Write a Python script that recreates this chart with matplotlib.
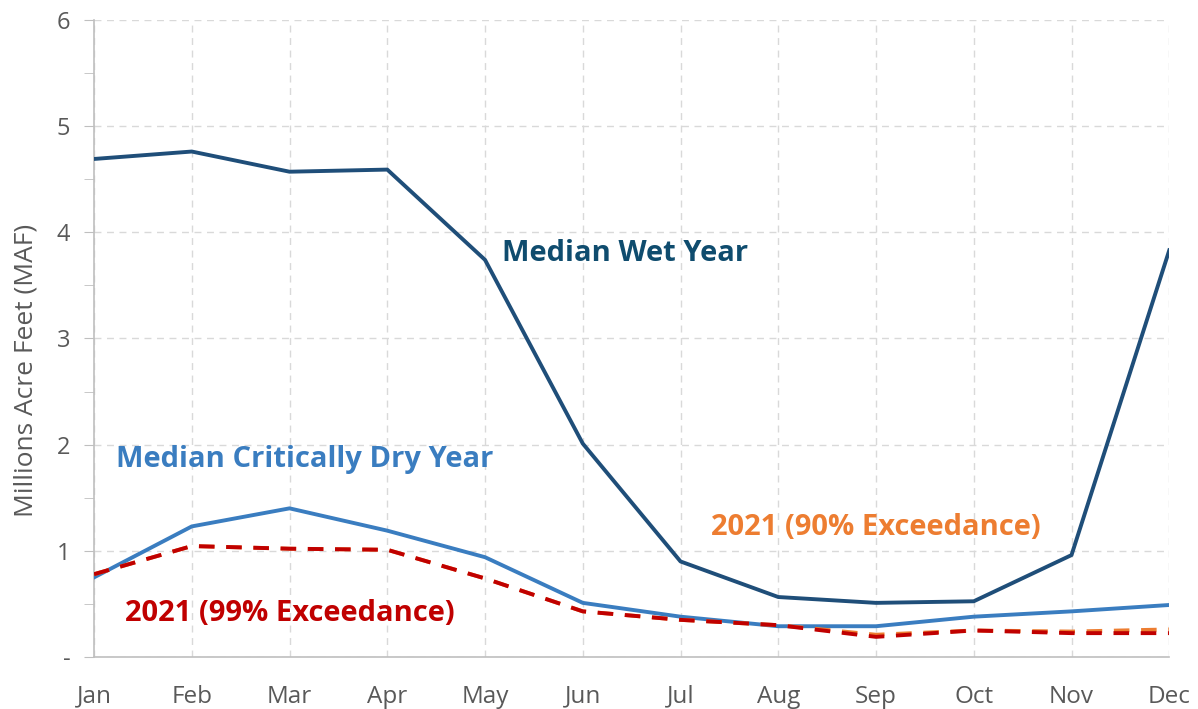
import matplotlib
matplotlib.use("Agg")
import matplotlib.pyplot as plt

months = ["Jan", "Feb", "Mar", "Apr", "May", "Jun", "Jul", "Aug", "Sep", "Oct", "Nov", "Dec"]
wet = [4.69, 4.76, 4.57, 4.59, 3.74, 2.01, 0.90, 0.565, 0.51, 0.525, 0.96, 3.83]
dry = [0.75, 1.23, 1.40, 1.19, 0.94, 0.51, 0.38, 0.29, 0.29, 0.38, 0.43, 0.49]
exc90 = [0.78, 1.045, 1.02, 1.01, 0.74, 0.43, 0.35, 0.30, 0.21, 0.25, 0.24, 0.26]
exc99 = [0.78, 1.045, 1.02, 1.01, 0.74, 0.43, 0.35, 0.30, 0.19, 0.25, 0.225, 0.225]
yticks = [0, 1, 2, 3, 4, 5, 6]
ytick_labels = ["-", "1", "2", "3", "4", "5", "6"]
yminor = [0.5, 1.5, 2.5, 3.5, 4.5, 5.5]

plt.rcParams['font.family'] = ['Open Sans', 'DejaVu Sans']

fig = plt.figure(figsize=(11.98, 7.09), dpi=100)
ax = fig.add_axes([0.0785, 0.0733, 0.8975, 0.8987])
x = list(range(len(months)))

ax.plot(x, wet, color="#1F4E79", lw=2.8, zorder=3)
ax.plot(x, dry, color="#3A7DC0", lw=2.8, zorder=3)
ax.plot(x, exc90, color="#ED7D31", lw=2.8, ls=(0, (4, 3)), zorder=4)
ax.plot(x, exc99, color="#C00000", lw=2.8, ls=(0, (4, 3)), zorder=5)

ax.set_xlim(0, 11)
ax.set_ylim(0, 6)
ax.set_xticks(x)
ax.set_xticklabels(months)
ax.set_yticks(yticks)
ax.set_yticklabels(ytick_labels)
ax.set_yticks(yminor, minor=True)
ax.tick_params(axis="x", length=0, pad=20, labelsize=17.5, labelcolor="#595959")
ax.tick_params(axis="y", which="major", length=7, color="#BFBFBF", pad=10, labelsize=17, labelcolor="#595959")
ax.tick_params(axis="y", which="minor", length=7, color="#BFBFBF")
ax.grid(True, which="major", color="#D9D9D9", ls=(0, (5, 4)), lw=1)
ax.set_axisbelow(True)
for s in ["top", "right"]:
    ax.spines[s].set_visible(False)
for s in ["left", "bottom"]:
    ax.spines[s].set_color("#BFBFBF")
    ax.spines[s].set_linewidth(1.2)
ax.set_ylabel("Millions Acre Feet (MAF)", fontsize=19, color="#595959")
ax.yaxis.set_label_coords(-0.052, 0.45)

ax.text(5.43, 3.80, "Median Wet Year", color="#0F4C6E", fontsize=21, fontweight="bold", ha="center", va="center")
ax.text(2.15, 1.86, "Median Critically Dry Year", color="#3A7DC0", fontsize=21, fontweight="bold", ha="center", va="center")
ax.text(8.0, 1.22, "2021 (90% Exceedance)", color="#ED7D31", fontsize=21, fontweight="bold", ha="center", va="center")
ax.text(2.0, 0.41, "2021 (99% Exceedance)", color="#C00000", fontsize=21, fontweight="bold", ha="center", va="center")

fig.savefig("out.png", dpi=100)
